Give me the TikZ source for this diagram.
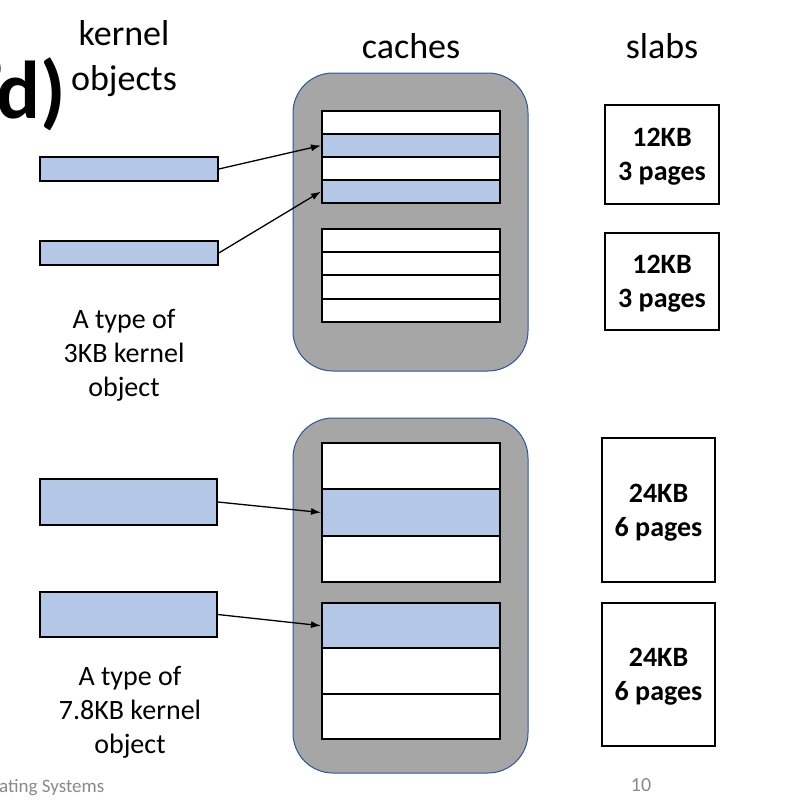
\documentclass[tikz,border=0pt]{standalone}
\usepackage{fontspec}
\setmainfont{Carlito}
\usetikzlibrary{arrows.meta}
\definecolor{objblue}{HTML}{B4C7E7}
\definecolor{cachegray}{HTML}{A6A6A6}
\definecolor{cacheline}{HTML}{2F5597}
\definecolor{footgray}{HTML}{898989}

\begin{document}
\begin{tikzpicture}[x=1pt,y=-1pt,
  cache/.style={draw=cacheline,fill=cachegray,line width=1pt,rounded corners=40pt,minimum width=235pt,inner sep=0pt},
  slot/.style={draw,line width=2pt,fill=white,minimum width=178pt,inner sep=0pt},
  obj/.style={draw,line width=1.6pt,fill=objblue,inner sep=0pt},
  slab/.style={draw,line width=2.5pt,align=center,inner sep=0pt,text depth=0pt,font=\bfseries\fontsize{28}{34}\selectfont},
  lbl/.style={align=center,font=\fontsize{28}{34}\selectfont},
  head/.style={align=center,font=\fontsize{36}{45}\selectfont},
  ptr/.style={-{Latex[length=10pt,width=7pt]},line width=1.3pt}]
\useasboundingbox (0,0) rectangle (793,812);

% slide title, cut at the left
\node[anchor=base east,font=\bfseries\fontsize{82}{90}\selectfont] (title) at (69,118) {’\kern-.12em d)};

% column heads
\node[head,anchor=base] (hobj) at (124,90) {kernel\\objects};
\node[head,anchor=base] (hcache) at (411,58) {caches};
\node[head,anchor=base] (hslab) at (662,58) {slabs};

% caches
\node[cache,minimum height=298pt] (c1) at (410.5,222) {};
\node[cache,minimum height=355pt] (c2) at (410.5,595.5) {};

\node[slot,minimum height=23pt] (a1) at (411,122.5) {};
\node[slot,minimum height=23pt,fill=objblue] (a2) at (411,145.5) {};
\node[slot,minimum height=23pt] (a3) at (411,168.5) {};
\node[slot,minimum height=23pt,fill=objblue] (a4) at (411,191.5) {};

\node[slot,minimum height=23.25pt] (a5) at (411,240.6) {};
\node[slot,minimum height=23.25pt] (a6) at (411,263.9) {};
\node[slot,minimum height=23.25pt] (a7) at (411,287.1) {};
\node[slot,minimum height=23.25pt] (a8) at (411,310.4) {};

\node[slot,minimum height=46.3pt] (b1) at (411,466.2) {};
\node[slot,minimum height=46.3pt,fill=objblue] (b2) at (411,512.5) {};
\node[slot,minimum height=46.3pt] (b3) at (411,558.8) {};

\node[slot,minimum height=45.3pt,fill=objblue] (b4) at (411,625.7) {};
\node[slot,minimum height=45.3pt] (b5) at (411,671) {};
\node[slot,minimum height=45.3pt] (b6) at (411,716.3) {};

% kernel objects
\node[obj,minimum width=178pt,minimum height=24pt] (o1) at (129,169) {};
\node[obj,minimum width=178pt,minimum height=24pt] (o2) at (129,253) {};
\node[obj,minimum width=177pt,minimum height=46pt] (o3) at (128.5,502) {};
\node[obj,minimum width=177pt,minimum height=45pt] (o4) at (128.5,614.5) {};

\draw[ptr] (o1.east) -- (a2.west);
\draw[ptr] (o2.east) -- (a4.west);
\draw[ptr] (o3.east) -- (b2.west);
\draw[ptr] (o4.east) -- (b4.west);

\node[lbl,anchor=base] (t1) at (124,396) {A type of\\3KB kernel\\object};
\node[lbl,anchor=base] (t2) at (130,753) {A type of\\7.8KB kernel\\object};

% slabs
\node[slab,minimum width=114pt,minimum height=99pt] (s1) at (662,154.5) {12KB\\3 pages};
\node[slab,minimum width=114pt,minimum height=97pt] (s2) at (662,281.5) {12KB\\3 pages};
\node[slab,minimum width=113pt,minimum height=144pt] (s3) at (658.5,510) {24KB\\6 pages};
\node[slab,minimum width=113pt,minimum height=143pt] (s4) at (658.5,674.5) {24KB\\6 pages};

% footer
\node[anchor=base west,inner sep=0pt,text=footgray,font=\fontsize{19}{22}\selectfont] (foot) at (-1,792) {ating Systems};
\node[anchor=base,inner sep=0pt,text=footgray,font=\fontsize{20}{24}\selectfont] (pg) at (641,791) {10};
\end{tikzpicture}
\end{document}
